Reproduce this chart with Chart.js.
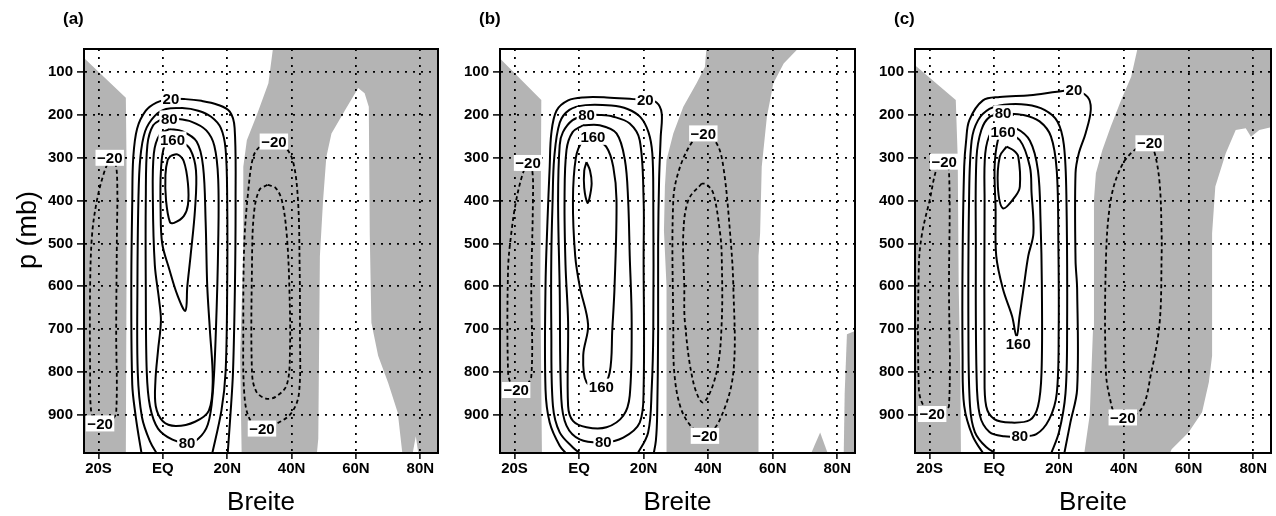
<!DOCTYPE html>
<html>
<head>
<meta charset="utf-8">
<script src="https://cdn.jsdelivr.net/npm/chart.js@4/dist/chart.umd.min.js"></script>
<style>
  body { margin: 0; background: #fff; }
  .panel { position: absolute; top: 0; }
</style>
</head>
<body>
<canvas id="chartA" class="panel" style="left:0px" width="440" height="516"></canvas>
<canvas id="chartB" class="panel" style="left:440px" width="416" height="516"></canvas>
<canvas id="chartC" class="panel" style="left:856px" width="420" height="516"></canvas>
<script>
// axes: latitude (deg, S negative) and pressure (mb)
const latTicks = [-20, 0, 20, 40, 60, 80];
const latLabels = ["20S", "EQ", "20N", "40N", "60N", "80N"];
const presTicks = [100, 200, 300, 400, 500, 600, 700, 800, 900];
const latRange = [-24.5, 85.5];
const presRange = [46, 989];

// ---- panel (a) ----  points are [lat, p]
const aShadeW = [[-26,67],[-24.5,67],[-11.5,160],[-11.3,300],[-11.3,600],[-11.5,995],[-26,995]];
const aShadeE = [[34.3,40],[87,40],[87,995],[79.5,995],[78.6,950],[77.5,995],[74.5,995],[73,895],[70,825],[66.9,762],[64.8,685],[64.3,480],[64,181],[62.7,149],[60.7,137],[56.6,189],[52.4,243],[50.8,298],[49.8,398],[48.8,529],[48.3,956],[47.8,995],[24.5,995],[24,762],[25,529],[25,321],[26.1,259],[29.2,200],[32.8,126]];
const aPos20 = [[-6.5,995],[-7.5,950],[-8.5,900],[-9.5,830],[-9.8,600],[-9.5,400],[-9.2,300],[-8,232],[-5.3,190],[-2,171],[2,163],[7,163],[12,167],[17,176],[20.8,192],[22.3,230],[22.6,400],[22.4,600],[21.8,800],[21,900],[20.1,995]];
const aPos40 = [[-1.5,995],[-4,962],[-6.5,905],[-7.8,800],[-7.9,600],[-7.6,400],[-7,300],[-5.5,238],[-2.5,202],[1,186],[6,184],[11,190],[15,204],[18,230],[19.5,280],[20,400],[20,600],[19.5,800],[18.2,890],[15.2,995]];
const aPos80 = [[0,208],[-3,224],[-4.8,270],[-5.3,400],[-5.3,600],[-5,800],[-4,880],[-1.5,932],[3,958],[7.5,966],[11,956],[14,922],[15.5,850],[16.5,700],[17.2,500],[17.2,350],[16,272],[13.5,236],[9,216],[4,209],[0,208]];
const aPos120 = [[2,233],[-1,246],[-2.8,290],[-3.1,400],[-2.5,550],[-1.2,630],[-0.6,680],[-1.5,750],[-2.3,820],[-2.2,880],[0,915],[4,926],[10,916],[14.3,890],[15.5,820],[14.6,700],[13.8,600],[13.3,450],[12.5,320],[10.5,262],[6,238],[2,233]];
const aPos160 = [[3,257],[0.5,272],[-0.6,330],[-0.7,420],[-0.2,500],[2,560],[4.5,620],[7,657],[7.6,600],[8.6,530],[10,420],[10.3,330],[8.5,280],[5.5,261],[3,257]];
const aPos200 = [[2.5,295],[4.5,292],[6.5,308],[7.8,360],[7.8,410],[6.5,436],[3.5,452],[2.2,450],[1,400],[0.8,340],[1.5,305],[2.5,295]];
const aNeg20W = [[-16.5,300],[-18.5,340],[-20.5,400],[-22,480],[-22.6,600],[-22.6,800],[-22.3,890],[-21,915],[-19,920],[-16,912],[-14.5,895],[-14.5,700],[-14.3,500],[-14.2,350],[-15,306],[-16.5,300]];
const aNeg20E = [[34,262],[30,275],[28,300],[26.5,380],[25.3,500],[25,700],[25.3,850],[27,910],[30.8,932],[36,918],[40,895],[42.3,850],[42.6,700],[42.5,550],[42,400],[40.5,310],[38,275],[34,262]];
const aNeg40E = [[32.5,363],[30,375],[28.3,430],[27.7,550],[27.7,800],[29,845],[32,862],[35,858],[38.5,830],[39.5,750],[39.3,600],[38.5,480],[37,400],[35,370],[32.5,363]];
const aLabels = [["20",2.5,163],["80",2,208],["160",3,257],["\u221220",-16.5,300],["\u221220",34.5,262],["\u221220",-19.5,920],["\u221220",30.8,932],["80",7.5,966]];

// ---- panel (b) ----
const bShadeW = [[-26,68],[-24.5,68],[-11.7,165],[-11.8,300],[-12,600],[-11.5,995],[-26,995]];
const bShadeM = [[39.5,40],[68.5,40],[63.4,80],[60.2,126],[58.2,204],[56.6,321],[56.1,476],[55.6,529],[55.6,995],[27.1,995],[27.1,600],[26.3,470],[26.6,367],[27.1,305],[29.2,243],[32.3,181],[36.4,126],[39,88]];
const bShadeTri = [[71.6,995],[74.7,941],[77.3,995]];
const bShadeR = [[87,700],[83,712],[82.3,850],[82,995],[87,995]];
const bPos20 = [[-3.4,995],[-6,972],[-9.1,918],[-10.4,840],[-10.4,600],[-9.8,450],[-9.1,321],[-8.6,243],[-7,190],[-3.4,166],[1.2,159],[8.5,159],[16.8,163],[20.5,165],[24,171],[25.6,196],[25.3,250],[24.8,350],[24.5,500],[24.5,700],[24.2,900],[23.8,960],[23,995]];
const bPos40 = [[1.2,995],[-1.9,976],[-6,941],[-8.1,879],[-8.6,700],[-8.6,529],[-8.2,400],[-7.7,300],[-6,218],[-3,188],[2,177],[10,178],[15,186],[19,205],[21.5,240],[22.7,290],[23,400],[23,700],[22.5,840],[21.4,941],[17.8,995]];
const bPos80 = [[2.3,200],[-2,212],[-5,240],[-6,270],[-6.5,398],[-6,607],[-5.5,863],[-3.9,925],[0.2,957],[7.5,964],[13.7,953],[18.8,918],[20,840],[20,529],[20,398],[18.8,259],[15.7,220],[10.6,204],[6.4,200],[2.3,200]];
const bPos120 = [[1.2,224],[-2,240],[-3.9,282],[-4.5,398],[-4.2,550],[-3.4,684],[-3.4,879],[-1.9,914],[2.3,929],[8.5,929],[13.7,902],[15.7,855],[16.3,684],[15.7,529],[15.2,398],[14.2,305],[11.6,243],[6.4,224],[1.2,224]];
const bPos160 = [[4.3,251],[1,262],[-1,300],[-1.9,400],[-1.2,529],[0.2,600],[2.8,690],[1.3,760],[2.3,824],[6.9,835],[9.5,801],[10.3,700],[11,600],[11.6,398],[10.6,321],[8.5,275],[4.3,251]];
const bPos200 = [[2.3,310],[3.4,330],[3.9,360],[3.2,395],[2.6,405],[1.6,370],[1.6,330],[2.3,310]];
const bNeg20W = [[-15.8,313],[-17.4,336],[-19.5,400],[-21,476],[-22,560],[-22,800],[-21,830],[-19.5,842],[-17,835],[-14.8,810],[-14.8,600],[-14.3,400],[-14.5,330],[-15.8,313]];
const bNeg20E = [[38.5,243],[35.4,259],[31.3,321],[29.2,398],[29.2,700],[29.5,801],[31.3,879],[34.5,925],[39,949],[43.7,910],[47.8,801],[47.8,600],[46.8,476],[44.7,321],[42.6,266],[38.5,243]];
const bNeg40E = [[38,360],[33.9,398],[32.3,476],[32.6,600],[32.8,684],[35.4,824],[38.5,871],[42.6,801],[44.2,684],[44.2,529],[43.7,476],[41.6,383],[39.5,362],[38,360]];
const bLabels = [["20",20.5,165],["80",2.3,200],["160",4.3,251],["\u221220",-15.8,312],["\u221220",38.5,243],["\u221220",-19.5,842],["160",6.9,834],["80",7.5,964],["\u221220",39,949]];

// ---- panel (c) ----
const cShadeW = [[-26,84],[-24.5,84],[-11.9,165],[-11.3,300],[-11,600],[-10.5,800],[-10.3,995],[-26,995]];
const cShadeE = [[44.4,40],[87,40],[87,227],[86.6,227],[81.9,235],[79.3,251],[77.7,231],[74.6,235],[71.5,290],[68.3,367],[67.3,476],[67.3,762],[66.3,824],[64.2,894],[60,941],[54.8,980],[54,995],[27.7,995],[29.5,900],[30.5,700],[30.8,538],[30.8,398],[31.4,336],[33.4,282],[36,227],[39.2,165],[42.3,111]];
const cPos20 = [[-3,995],[-6.7,949],[-9.3,879],[-9.8,762],[-9.8,538],[-9.3,321],[-8.7,260],[-7.7,212],[-3.5,166],[1.7,158],[11,154],[19.4,146],[24.6,142],[28.8,158],[29.8,189],[28.2,243],[26.1,290],[25.1,336],[25.1,538],[25.6,607],[25.6,840],[23.5,918],[21.5,995]];
const cPos40 = [[1.7,995],[-2.5,975],[-6,940],[-7.5,880],[-8,700],[-7.8,400],[-7,260],[-5,212],[-1.5,186],[3,176],[10,176],[15.5,188],[19.5,215],[21.5,270],[22.3,400],[22.5,700],[22,850],[20,940],[17.3,995]];
const cPos80 = [[2.7,196],[-1.5,205],[-4,235],[-5.5,300],[-5.7,500],[-5.5,800],[-4.5,900],[-1.5,940],[3,950],[7.9,950],[13,945],[17,910],[19.3,850],[19.9,700],[19.8,500],[19.3,330],[17.5,250],[14,215],[9,200],[2.7,196]];
const cPos120 = [[2,225],[-1,240],[-2.8,290],[-3,400],[-3,800],[-2.5,880],[0,910],[5,918],[11,912],[13.5,880],[14.6,800],[14.7,600],[14.3,450],[13.5,330],[11,260],[6.5,230],[2,225]];
const cPos160 = [[2.7,239],[1.1,259],[0.1,321],[0.4,420],[0.6,529],[2.7,607],[5.5,670],[6.9,718],[7.8,670],[9,607],[10.5,529],[12.1,476],[11.5,380],[11,321],[7.9,259],[2.7,239]];
const cPos200 = [[3.8,274],[6,283],[7.4,297],[7.9,367],[6.5,390],[2.7,418],[1.1,367],[1.7,297],[3.8,274]];
const cNeg20W = [[-15.5,309],[-17.6,321],[-20,400],[-22.3,476],[-23.3,550],[-23.3,840],[-21.8,880],[-19.2,898],[-16,892],[-14,879],[-14,600],[-14,330],[-15.5,309]];
const cNeg20E = [[48,266],[43.3,282],[39.2,321],[36,398],[34.5,538],[34.5,801],[36,871],[37.1,894],[39.7,906],[45.4,887],[48.5,801],[51.1,684],[51.7,529],[51.7,476],[51.1,360],[49.6,290],[48,266]];
const cLabels = [["20",24.6,142],["80",2.7,196],["160",2.7,239],["\u221220",-15.5,309],["\u221220",48,266],["\u221220",-19.2,898],["160",7.4,735],["80",7.9,950],["\u221220",39.7,906]];

const FONT = '"Liberation Sans", Arial, sans-serif';

const panels = [
    { canvas: "chartA", tag: "(a)", yWidth: 84, padRight: 2, yTitle: "p (mb)",
      shades: [aShadeW, aShadeE],
      solid: [aPos20, aPos40, aPos80, aPos120, aPos160, aPos200],
      dashed: [aNeg20W, aNeg20E, aNeg40E], labels: aLabels },
    { canvas: "chartB", tag: "(b)", yWidth: 60, padRight: 1,
      shades: [bShadeW, bShadeM, bShadeTri, bShadeR],
      solid: [bPos20, bPos40, bPos80, bPos120, bPos160, bPos200],
      dashed: [bNeg20W, bNeg20E, bNeg40E], labels: bLabels },
    { canvas: "chartC", tag: "(c)", yWidth: 59, padRight: 5,
      shades: [cShadeW, cShadeE],
      solid: [cPos20, cPos40, cPos80, cPos120, cPos160, cPos200],
      dashed: [cNeg20W, cNeg20E], labels: cLabels }
];

const toXY = pts => pts.map(([x, y]) => ({ x: x, y: y }));

function decorPlugin(panel) {
    return {
        id: "decor",
        afterDraw(chart) {
            const ctx = chart.ctx;
            const xs = chart.scales.x, ys = chart.scales.y;
            ctx.save();
            ctx.font = "bold 15px " + FONT;
            ctx.textAlign = "center";
            ctx.textBaseline = "middle";
            panel.labels.forEach(([t, lat, p]) => {
                const x = xs.getPixelForValue(lat);
                const y = ys.getPixelForValue(p);
                const w = ctx.measureText(t).width + 3;
                ctx.fillStyle = "#fff";
                ctx.fillRect(x - w / 2, y - 8, w, 16);
                ctx.fillStyle = "#000";
                ctx.fillText(t, x, y + 1);
            });
            ctx.textAlign = "left";
            ctx.font = "bold 17px " + FONT;
            ctx.fillText(panel.tag, chart.chartArea.left - 21, 19);
            if (panel.yTitle) {
                ctx.translate(29, 230);
                ctx.rotate(-Math.PI / 2);
                ctx.textAlign = "center";
                ctx.font = "27px " + FONT;
                ctx.fillText(panel.yTitle, 0, 0);
            }
            ctx.restore();
        }
    };
}

panels.forEach(panel => {
    const datasets = [];
    panel.solid.forEach(c => datasets.push({
        data: toXY(c), borderColor: "#000", borderWidth: 2,
        pointRadius: 0, tension: 0.35, fill: false, order: 1
    }));
    panel.dashed.forEach(c => datasets.push({
        data: toXY(c), borderColor: "#000", borderWidth: 1.8, borderDash: [4, 3],
        pointRadius: 0, tension: 0.35, fill: false, order: 1
    }));
    panel.shades.forEach(s => datasets.push({
        data: toXY(s), borderWidth: 0, backgroundColor: "#b4b4b4",
        pointRadius: 0, tension: 0, fill: "shape", order: 5
    }));

    const frame = { display: true, color: "#000", width: 2, z: 2 };

    new Chart(document.getElementById(panel.canvas), {
        type: "line",
        data: { datasets: datasets },
        plugins: [decorPlugin(panel)],
        options: {
            responsive: false,
            animation: false,
            events: [],
            layout: { autoPadding: false, padding: { top: 49, right: panel.padRight, bottom: 0, left: 0 } },
            plugins: { legend: { display: false }, tooltip: { enabled: false } },
            scales: {
                x: {
                    type: "linear", position: "bottom",
                    min: latRange[0], max: latRange[1],
                    afterBuildTicks: s => { s.ticks = latTicks.map(v => ({ value: v })); },
                    afterFit: s => { s.height = 63; },
                    ticks: {
                        callback: v => latLabels[latTicks.indexOf(v)],
                        color: "#000", font: { family: FONT, size: 15, weight: "bold" },
                        padding: 1, maxRotation: 0, autoSkip: false
                    },
                    grid: { color: "#000", lineWidth: 1.8, tickLength: 6, tickWidth: 1.5, tickColor: "#000", z: 1 },
                    border: { display: true, color: "#000", width: 2, dash: [2, 6], z: 2 },
                    title: { display: true, text: "Breite", color: "#000",
                             font: { family: FONT, size: 26, lineHeight: 1 }, padding: { top: 0, bottom: 0 } }
                },
                y: {
                    type: "linear", position: "left", reverse: true,
                    min: presRange[0], max: presRange[1],
                    afterBuildTicks: s => { s.ticks = presTicks.map(v => ({ value: v })); },
                    afterFit: s => { s.width = panel.yWidth; },
                    ticks: { color: "#000", font: { family: FONT, size: 15, weight: "bold" }, padding: 4 },
                    grid: { color: "#000", lineWidth: 1.8, tickLength: 7, tickWidth: 1.5, tickColor: "#000", z: 1 },
                    border: { display: true, color: "#000", width: 2, dash: [2, 6], z: 2 }
                },
                xTop: {
                    type: "linear", position: "top", min: latRange[0], max: latRange[1],
                    grid: { display: false, drawTicks: false }, ticks: { display: false },
                    border: frame, afterFit: s => { s.height = 0; }
                },
                yRight: {
                    type: "linear", position: "right", min: presRange[0], max: presRange[1],
                    grid: { display: false, drawTicks: false }, ticks: { display: false },
                    border: frame, afterFit: s => { s.width = 0; }
                }
            }
        }
    });
});
</script>
</body>
</html>
